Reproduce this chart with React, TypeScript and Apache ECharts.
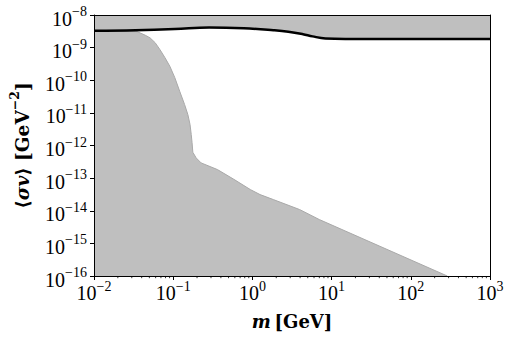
import React, { useEffect, useRef } from 'react';
import * as echarts from 'echarts';

// Lower excluded region boundary (m in GeV, <sigma v> in GeV^-2)
const lowerM = [0.01, 0.035, 0.0444, 0.0512, 0.0591, 0.0681, 0.0787, 0.0908, 0.1048, 0.1209, 0.1394, 0.1532, 0.1632, 0.169, 0.173, 0.177, 0.195, 0.225, 0.362, 0.583, 0.942, 1.25, 1.84, 3.94, 7.0, 289];
const lowerSv = [3.15e-9, 3.1e-9, 2.4e-9, 1.98e-9, 1.42e-9, 8.65e-10, 4.92e-10, 2.67e-10, 1.2e-10, 4.57e-11, 1.79e-11, 8.84e-12, 4.36e-12, 2.16e-12, 1.23e-12, 6.19e-13, 4.17e-13, 2.93e-13, 1.83e-13, 9.2e-14, 4.46e-14, 3.13e-14, 2.2e-14, 1.09e-14, 5.37e-15, 1e-16];

// Upper limit curve
const limitM = [0.01, 0.0333, 0.1048, 0.284, 0.778, 1.84, 2.84, 4.35, 5.75, 8.37, 30, 1000];
const limitSv = [3.3e-9, 3.42e-9, 3.72e-9, 4.17e-9, 3.94e-9, 3.42e-9, 3.08e-9, 2.58e-9, 2.21e-9, 1.92e-9, 1.84e-9, 1.84e-9];

const xTickExps = [-2, -1, 0, 1, 2, 3];
const yTickExps = [-16, -15, -14, -13, -12, -11, -10, -9, -8];
const minorMultipliers = [2, 3, 4, 5, 6, 7, 8, 9];

const GRAY = '#bfbfbf';
const TICK_FONT = "'Liberation Serif', 'Times New Roman', serif";
const NAME_FONT = "'DejaVu Serif', serif";

function powLabel(v: number) {
  const e = Math.round(Math.log10(v));
  const s = e < 0 ? '\u2212' + -e : String(e);
  return '{a|10}{b|' + s + '}';
}

const tickRich = {
  a: { fontFamily: TICK_FONT, fontSize: 20, lineHeight: 24, color: '#000', verticalAlign: 'bottom' },
  b: { fontFamily: TICK_FONT, fontSize: 14, lineHeight: 13, color: '#000', verticalAlign: 'top' },
};

export default function App() {
  const ref = useRef<HTMLDivElement>(null);
  useEffect(() => {
    const chart = echarts.init(ref.current!, null, { renderer: 'svg' });
    const minorTicks: number[][] = [];
    xTickExps.slice(0, -1).forEach((e) => {
      minorMultipliers.forEach((k) => minorTicks.push([k * Math.pow(10, e), Math.pow(10, yTickExps[0])]));
    });
    const axisLine = { show: true, lineStyle: { color: '#000', width: 1 } };
    chart.setOption({
      animation: false,
      grid: { left: 88, top: 15, width: 402, height: 261, containLabel: false },
      xAxis: [
        {
          type: 'log', logBase: 10, min: Math.pow(10, xTickExps[0]), max: Math.pow(10, xTickExps[xTickExps.length - 1]),
          splitNumber: 5, position: 'bottom', z: 10,
          axisLine, splitLine: { show: false },
          axisTick: { show: true, inside: false, length: 4, lineStyle: { color: '#000', width: 1 } },
          axisLabel: { formatter: powLabel, margin: 3, rich: tickRich, fontFamily: TICK_FONT },
          name: '{i|m} {r|[GeV]}', nameLocation: 'middle', nameGap: 36,
          nameTextStyle: {
            fontFamily: NAME_FONT,
            rich: {
              i: { fontFamily: NAME_FONT, fontSize: 18, fontWeight: 'bold', fontStyle: 'italic', color: '#000' },
              r: { fontFamily: NAME_FONT, fontSize: 18, fontWeight: 'bold', color: '#000' },
            },
          },
        },
        {
          type: 'log', logBase: 10, min: Math.pow(10, xTickExps[0]), max: Math.pow(10, xTickExps[xTickExps.length - 1]),
          position: 'top', z: 10, axisLine, axisTick: { show: false }, axisLabel: { show: false }, splitLine: { show: false },
        },
      ],
      yAxis: [
        {
          type: 'log', logBase: 10, min: Math.pow(10, yTickExps[0]), max: Math.pow(10, yTickExps[yTickExps.length - 1]),
          splitNumber: 8, position: 'left', z: 10,
          axisLine, splitLine: { show: false },
          axisTick: { show: true, inside: false, length: 4, lineStyle: { color: '#000', width: 1 } },
          axisLabel: { formatter: powLabel, margin: 7, rich: tickRich, fontFamily: TICK_FONT, padding: [3, 0, 0, 0] },
          name: '{r|\u27e8}{i|\u03c3v}{r|\u27e9 [GeV}{s|\u22122}{r|]}', nameLocation: 'middle', nameGap: 62, nameRotate: 90,
          nameTextStyle: {
            fontFamily: NAME_FONT,
            rich: {
              i: { fontFamily: NAME_FONT, fontSize: 18.5, lineHeight: 24, fontWeight: 'bold', fontStyle: 'italic', color: '#000', verticalAlign: 'bottom' },
              r: { fontFamily: NAME_FONT, fontSize: 18.5, lineHeight: 24, fontWeight: 'bold', color: '#000', verticalAlign: 'bottom' },
              s: { fontFamily: NAME_FONT, fontSize: 12.5, lineHeight: 12, fontWeight: 'bold', color: '#000', verticalAlign: 'top' },
            },
          },
        },
        {
          type: 'log', logBase: 10, min: Math.pow(10, yTickExps[0]), max: Math.pow(10, yTickExps[yTickExps.length - 1]),
          position: 'right', z: 10, axisLine, axisTick: { show: false }, axisLabel: { show: false }, splitLine: { show: false },
        },
      ],
      series: [
        {
          type: 'line', xAxisIndex: 0, yAxisIndex: 0, z: 2,
          data: lowerM.map((m, i) => [m, lowerSv[i]]),
          symbol: 'none', smooth: false,
          lineStyle: { color: '#a9a9a9', width: 1 },
          areaStyle: { color: GRAY, opacity: 1, origin: 'start' },
        },
        {
          type: 'line', xAxisIndex: 0, yAxisIndex: 0, z: 3,
          data: limitM.map((m, i) => [m, limitSv[i]]),
          symbol: 'none', smooth: 0.4,
          lineStyle: { color: '#000', width: 2.5 },
          areaStyle: { color: GRAY, opacity: 1, origin: 'end' },
        },
        {
          type: 'custom', xAxisIndex: 0, yAxisIndex: 0, z: 10, clip: false, silent: true,
          data: minorTicks,
          renderItem: (params: any, api: any) => {
            const p = api.coord([api.value(0), api.value(1)]);
            return {
              type: 'line',
              shape: { x1: p[0], y1: p[1], x2: p[0], y2: p[1] + 2.2 },
              style: { stroke: '#000', lineWidth: 0.8 },
            };
          },
        },
      ],
    });
    return () => chart.dispose();
  }, []);
  return <div ref={ref} style={{ position: 'absolute', left: 0, top: 0, width: 512, height: 337 }} />;
}
